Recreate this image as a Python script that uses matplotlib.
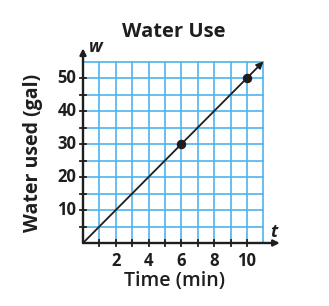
import matplotlib.pyplot as plt

# data
line_t = [0, 11]
line_w = [0, 55]
point_t = [6, 10]
point_w = [30, 50]
x_ticks = [2, 4, 6, 8, 10]
y_ticks = [10, 20, 30, 40, 50]
x_minor = [1, 2, 3, 4, 5, 6, 7, 8, 9, 10]
y_minor = [5, 10, 15, 20, 25, 30, 35, 40, 45, 50]
grid_x = [1, 2, 3, 4, 5, 6, 7, 8, 9, 10, 11]
grid_y = [5, 10, 15, 20, 25, 30, 35, 40, 45, 50, 55]

plt.rcParams['font.family'] = ['Open Sans', 'DejaVu Sans']

fig = plt.figure(figsize=(3.29, 3.06), dpi=100)
W, H = 329, 306
ox, oy = 83, 243          # origin in pixels
xmax, ymax = 12.3, 60
ux, uy = 16.4, 3.3
ax = fig.add_axes([ox / W, (H - oy) / H, xmax * ux / W, ymax * uy / H])
ax.set_xlim(0, xmax)
ax.set_ylim(0, ymax)
for s in ax.spines.values():
    s.set_visible(False)
ax.set_xticks([])
ax.set_yticks([])

grid_color = '#4fb4ee'
for gx in grid_x:
    ax.plot([gx, gx], [0, 55], color=grid_color, lw=1.2, zorder=1)
for gy in grid_y:
    ax.plot([0, 11], [gy, gy], color=grid_color, lw=1.2, zorder=1)

ink = '#1e1e1e'
# axes with arrows
ax.annotate('', xy=(12.0, 0), xytext=(0, 0),
            arrowprops=dict(arrowstyle='-|>', color=ink, lw=1.7,
                            mutation_scale=9, shrinkA=0, shrinkB=0), zorder=3)
ax.annotate('', xy=(0, 59), xytext=(0, 0),
            arrowprops=dict(arrowstyle='-|>', color=ink, lw=1.7,
                            mutation_scale=9, shrinkA=0, shrinkB=0), zorder=3)

# tick marks crossing the axes
for t in x_minor:
    ax.plot([t, t], [-1.0, 1.0], color=ink, lw=1.3, clip_on=False, zorder=3)
for w in y_minor:
    ax.plot([-0.2, 0.2], [w, w], color=ink, lw=1.3, clip_on=False, zorder=3)

for t in x_ticks:
    ax.text(t, -2.6, str(t), ha='center', va='top', fontsize=12,
            fontweight='bold', color=ink)
for w in y_ticks:
    ax.text(-0.4, w, str(w), ha='right', va='center', fontsize=12,
            fontweight='bold', color=ink)

ax.text(0.35, 59.5, 'w', fontsize=12.5, fontstyle='italic', fontweight='bold',
        ha='left', va='center', color=ink)
ax.text(11.65, 3.2, 't', fontsize=12.5, fontstyle='italic', fontweight='bold',
        ha='center', va='center', color=ink)

# line with arrow and points
ax.annotate('', xy=(line_t[1], line_w[1]), xytext=(line_t[0], line_w[0]),
            arrowprops=dict(arrowstyle='-|>', color=ink, lw=1.3,
                            mutation_scale=10, shrinkA=0, shrinkB=0), zorder=4)
ax.scatter(point_t, point_w, s=34, color=ink, zorder=5)

fig.text(174 / W, (H - 32) / H, 'Water Use', ha='center', va='center',
         fontsize=14.5, fontweight='bold', color=ink)
fig.text(174 / W, (H - 281) / H, 'Time (min)', ha='center', va='center',
         fontsize=14, fontweight='semibold', color=ink)
fig.text(33 / W, (H - 153) / H, 'Water used (gal)', ha='center', va='center',
         rotation=90, fontsize=14, fontweight='bold', color=ink)

fig.savefig('out.png', dpi=100)
